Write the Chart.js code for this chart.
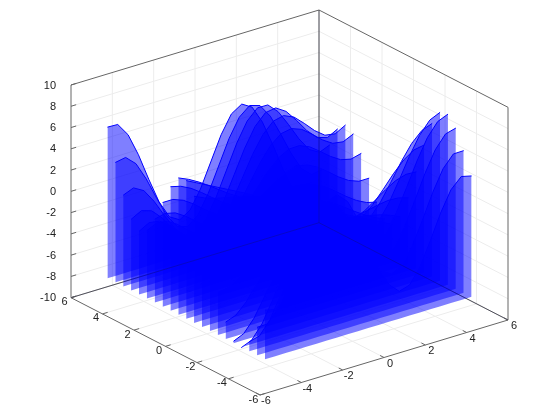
<!DOCTYPE html>
<html><head><meta charset="utf-8">
<style>html,body{margin:0;padding:0;background:#fff}canvas{display:block}</style>
<script src="https://cdn.jsdelivr.net/npm/chart.js@4/dist/chart.umd.min.js"></script>
</head><body><canvas id="c" width="560" height="420"></canvas>
<script>
const xValues=[-5,-4.5,-4,-3.5,-3,-2.5,-2,-1.5,-1,-0.5,0,0.5,1,1.5,2,2.5,3,3.5,4,4.5,5];
const fenceBase=-8;
const xTicks=[-6,-4,-2,0,2,4,6];
const yTicks=[-6,-4,-2,0,2,4,6];
const zTicks=[-10,-8,-6,-4,-2,0,2,4,6,8,10];
const zYp50=[6.21,6.17,4.91,2.74,0.14,-2.28,-3.98,-4.56,-3.93,-2.26,0,2.26,3.93,4.56,3.98,2.28,-0.14,-2.74,-4.91,-6.17,-6.21];
const zYp45=[3.27,3.45,2.57,0.84,-1.26,-3.22,-4.51,-4.81,-4.00,-2.27,0,2.27,4.00,4.81,4.51,3.22,1.26,-0.84,-2.57,-3.45,-3.27];
const zYp40=[0.57,0.97,0.42,-0.89,-2.52,-4.02,-4.95,-4.97,-4.02,-2.25,0,2.25,4.02,4.97,4.95,4.02,2.52,0.89,-0.42,-0.97,-0.57];
const zYp35=[-1.32,-0.79,-1.10,-2.05,-3.30,-4.43,-5.05,-4.89,-3.89,-2.15,0,2.15,3.89,4.89,5.05,4.43,3.30,2.05,1.10,0.79,1.32];
const zYp30=[-2.07,-1.53,-1.69,-2.42,-3.39,-4.28,-4.71,-4.48,-3.51,-1.94,0,1.94,3.51,4.48,4.71,4.28,3.39,2.42,1.69,1.53,2.07];
const zYp25=[-1.61,-1.16,-1.31,-1.92,-2.75,-3.50,-3.87,-3.69,-2.90,-1.60,0,1.60,2.90,3.69,3.87,3.50,2.75,1.92,1.31,1.16,1.61];
const zYp20=[-0.16,0.09,-0.15,-0.76,-1.53,-2.24,-2.65,-2.62,-2.10,-1.17,0,1.17,2.10,2.62,2.65,2.24,1.53,0.76,0.15,-0.09,0.16];
const zYp15=[1.79,1.79,1.42,0.78,0,-0.72,-1.22,-1.39,-1.19,-0.68,0,0.68,1.19,1.39,1.22,0.72,0,-0.78,-1.42,-1.79,-1.79];
const zYp10=[3.66,3.41,2.92,2.24,1.48,0.75,0.17,-0.19,-0.30,-0.21,0,0.21,0.30,0.19,-0.17,-0.75,-1.48,-2.24,-2.92,-3.41,-3.66];
const zYp05=[4.87,4.44,3.89,3.25,2.56,1.89,1.31,0.82,0.46,0.20,0,-0.20,-0.46,-0.82,-1.31,-1.89,-2.56,-3.25,-3.89,-4.44,-4.87];
const zY00=[5,4.5,4,3.5,3,2.5,2,1.5,1,0.5,0,-0.5,-1,-1.5,-2,-2.5,-3,-3.5,-4,-4.5,-5];
const zYm05=[3.91,3.46,3.13,2.89,2.70,2.49,2.21,1.82,1.30,0.68,0,-0.68,-1.30,-1.82,-2.21,-2.49,-2.70,-2.89,-3.13,-3.46,-3.91];
const zYm10=[1.74,1.45,1.40,1.54,1.76,1.95,1.99,1.81,1.38,0.75,0,-0.75,-1.38,-1.81,-1.99,-1.95,-1.76,-1.54,-1.40,-1.45,-1.74];
const zYm15=[-1.09,-1.15,-0.86,-0.28,0.42,1.08,1.50,1.61,1.33,0.76,0,-0.76,-1.33,-1.61,-1.50,-1.08,-0.42,0.28,0.86,1.15,1.09];
const zYm20=[-4.00,-3.83,-3.17,-2.16,-0.97,0.16,0.99,1.38,1.26,0.75,0,-0.75,-1.26,-1.38,-0.99,-0.16,0.97,2.16,3.17,3.83,4.00];
const zYm25=[-6.41,-6.04,-5.09,-3.68,-2.05,-0.50,0.67,1.29,1.30,0.80,0,-0.80,-1.30,-1.29,-0.67,0.50,2.05,3.68,5.09,6.04,6.41];
const zYm30=[-7.83,-7.39,-6.23,-4.52,-2.55,-0.68,0.75,1.50,1.53,0.94,0,-0.94,-1.53,-1.50,-0.75,0.68,2.55,4.52,6.23,7.39,7.83];
const zYm35=[-8.04,-7.63,-6.40,-4.51,-2.32,-0.25,1.31,2.09,2.01,1.21,0,-1.21,-2.01,-2.09,-1.31,0.25,2.32,4.51,6.40,7.63,8.04];
const zYm40=[-7.11,-6.85,-5.64,-3.69,-1.40,0.76,2.33,3.01,2.72,1.59,0,-1.59,-2.72,-3.01,-2.33,-0.76,1.40,3.69,5.64,6.85,7.11];
const zYm45=[-5.37,-5.35,-4.25,-2.32,0,2.16,3.67,4.17,3.58,2.05,0,-2.05,-3.58,-4.17,-3.67,-2.16,0,2.32,4.25,5.35,5.37];
const zYm50=[-3.37,-3.61,-2.65,-0.76,1.56,3.70,5.12,5.42,4.49,2.54,0,-2.54,-4.49,-5.42,-5.12,-3.70,-1.56,0.76,2.65,3.61,3.37];
const yFences=[-5,-4.5,-4,-3.5,-3,-2.5,-2,-1.5,-1,-0.5,0,0.5,1,1.5,2,2.5,3,3.5,4,4.5,5];
const zRows=[zYm50,zYm45,zYm40,zYm35,zYm30,zYm25,zYm20,zYm15,zYm10,zYm05,zY00,zYp05,zYp10,zYp15,zYp20,zYp25,zYp30,zYp35,zYp40,zYp45,zYp50];

// oblique view: where the box corner (-6,-6,-10) lands and the step per unit
const view={ox:260,oy:395,xx:20.667,xy:-6.25,yx:-15.75,yy:-8.108,zy:-10.635};
function proj(x,y,z){
  const a=x+6,b=y+6,c=z+10;
  return {x:view.ox+view.xx*a+view.yx*b, y:view.oy+view.xy*a+view.yy*b+view.zy*c};
}
const seg=(p,q,color,w=1)=>({data:[proj(...p),proj(...q)],borderColor:color,borderWidth:w,showLine:true,pointRadius:0,fill:false,tension:0});
const frameC='#666666', gridC='#ececec', m=6, lo=-10, hi=10;

const datasets=[];
// faint back edges that stay readable through the fills (painted last)
[[[-m,m,lo],[m,m,lo]],[[m,-m,lo],[m,m,lo]],[[m,m,lo],[m,m,hi]]].forEach(s=>datasets.push(seg(s[0],s[1],'rgba(20,20,60,0.28)')));
// fences, front first (Chart.js paints the first dataset last)
yFences.forEach((y,i)=>{
  datasets.push({data:xValues.map((x,k)=>proj(x,y,zRows[i][k])),showLine:true,pointRadius:0,tension:0,
    borderColor:'#0000ff',borderWidth:1,backgroundColor:'rgba(0,0,255,0.5)',fill:'+1'});
  datasets.push({data:xValues.map(x=>proj(x,y,fenceBase)),showLine:true,pointRadius:0,tension:0,
    borderColor:'rgba(0,0,255,0)',borderWidth:0,fill:false});
});
// frame
[[[-m,-m,lo],[m,-m,lo]],[[-m,-m,lo],[-m,m,lo]],[[-m,m,lo],[m,m,lo]],[[m,-m,lo],[m,m,lo]],
 [[-m,m,lo],[-m,m,hi]],[[m,m,lo],[m,m,hi]],[[m,-m,lo],[m,-m,hi]],
 [[-m,m,hi],[m,m,hi]],[[m,-m,hi],[m,m,hi]]].forEach(s=>datasets.push(seg(s[0],s[1],frameC)));
// tick marks
const tk=0.25;
xTicks.forEach(x=>datasets.push(seg([x,-m,lo],[x,-m+tk,lo],frameC)));
yTicks.forEach(y=>datasets.push(seg([-m,y,lo],[-m+tk,y,lo],frameC)));
zTicks.forEach(z=>datasets.push(seg([-m,m,z],[-m+tk,m,z],frameC)));
// grid
xTicks.slice(1,-1).forEach(x=>{datasets.push(seg([x,-m,lo],[x,m,lo],gridC));datasets.push(seg([x,m,lo],[x,m,hi],gridC));});
yTicks.slice(1,-1).forEach(y=>{datasets.push(seg([-m,y,lo],[m,y,lo],gridC));datasets.push(seg([m,y,lo],[m,y,hi],gridC));});
zTicks.slice(1,-1).forEach(z=>{datasets.push(seg([-m,m,z],[m,m,z],gridC));datasets.push(seg([m,-m,z],[m,m,z],gridC));});

const tickText={id:'tickText',afterDraw(chart){
  const c=chart.ctx;c.save();
  c.font='11px "Liberation Sans"';c.fillStyle='#222';c.textBaseline='middle';
  c.textAlign='center';
  xTicks.forEach(v=>{const p=proj(v,-m,lo);c.fillText(String(v),p.x+6,p.y+6);});
  yTicks.forEach(v=>{const p=proj(-m,v,lo);c.fillText(String(v),p.x-6.5,p.y+4.5);});
  c.textAlign='right';
  zTicks.forEach(v=>{const p=proj(-m,m,v);c.fillText(String(v),p.x-15,p.y+0.5);});
  c.restore();
}};
new Chart(document.getElementById('c'),{
  type:'scatter',data:{datasets},plugins:[tickText],
  options:{responsive:false,animation:false,events:[],layout:{padding:0},
    plugins:{legend:{display:false},tooltip:{enabled:false},title:{display:false}},
    scales:{x:{type:'linear',min:0,max:560,display:false},y:{type:'linear',min:0,max:420,reverse:true,display:false}}}
});
</script></body></html>
